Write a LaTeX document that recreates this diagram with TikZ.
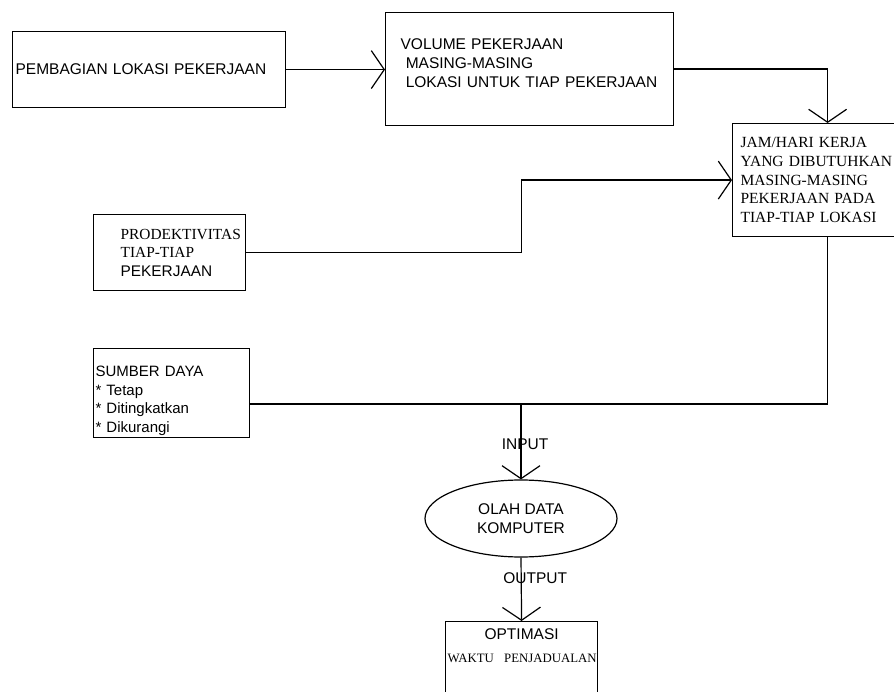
\documentclass[tikz,border=0pt]{standalone}
\usepackage{fontspec}
\setmainfont{Liberation Serif}
\setsansfont{Liberation Sans}
\usetikzlibrary{shapes.geometric, arrows.meta}

\begin{document}
\begin{tikzpicture}[
    x=1pt, y=-1pt,
    every node/.style={
        font=\sffamily\fontsize{15.5}{18.6}\selectfont
    },
    box/.style={
        draw,
        line width=1.2pt,
        anchor=north west,
        align=left,
        inner ysep=2pt
    },
    proses/.style={
        draw,
        ellipse,
        line width=1.2pt,
        align=center,
        minimum width=192pt,
        minimum height=77pt,
        inner sep=0pt
    },
    panah/.style={
        line width=1.2pt,
        -{Straight Barb[length=13pt,width=38pt]}
    },
    garis/.style={
        line width=1.2pt
    }
    ]
    \useasboundingbox (0,0) rectangle (894,692);

    % Kotak
    \node[box, minimum width=273pt, minimum height=76pt, text width=267pt, inner xsep=3pt] (pembagian) at (12,31) {PEMBAGIAN LOKASI PEKERJAAN};
    \node[box, minimum width=288pt, minimum height=113pt, text width=258pt, inner xsep=15pt] (volume) at (385,12) {VOLUME PEKERJAAN\\\ MASING-MASING\\\ LOKASI UNTUK TIAP PEKERJAAN\rule[-12pt]{0pt}{12pt}};
    \node[box, minimum width=190pt, minimum height=113pt, text width=174pt, inner xsep=8pt, font=\rmfamily\fontsize{15.5}{18.7}\selectfont] (jam) at (732,123) {JAM/HARI KERJA\\YANG DIBUTUHKAN\\MASING-MASING\\PEKERJAAN PADA\\TIAP-TIAP LOKASI};
    \node[box, minimum width=152pt, minimum height=76pt, text width=98pt, inner xsep=27pt] (prod) at (93,214) {\rmfamily\fontsize{15.4}{18.6}\selectfont PRODEKTIVITAS\\\rmfamily TIAP-TIAP\\\sffamily PEKERJAAN};
    \node[box, minimum width=156pt, minimum height=85pt, text width=152pt, inner xsep=2pt, font=\sffamily\fontsize{15}{18.5}\selectfont] (sumber) at (93,348) {\rule{0pt}{26pt}SUMBER DAYA\\{*} Tetap\\{*} Ditingkatkan\\{*} Dikurangi};
    \node[proses] (olah) at (521,518.5) {OLAH DATA\\KOMPUTER};
    \node[box, align=center, minimum width=152pt, text width=148pt, inner xsep=2pt, inner ysep=7pt, text depth=70pt] (optimasi) at (445,621) {OPTIMASI\\[4pt]\rmfamily\fontsize{12.8}{16}\selectfont\mbox{WAKTU\ \ PENJADUALAN}};

    % Penghubung
    \coordinate (simpul) at (521,404);
    \draw[panah] (pembagian.east) -- (volume.west |- pembagian.east);
    \draw[panah] (volume.east) -| (jam.north);
    \draw[panah] (prod.east) -- ++(275,0) |- (jam.west);
    \draw[garis] (sumber.east |- simpul) -| (jam.south);
    \draw[panah] (simpul) -- node[pos=0.54, xshift=4pt] {INPUT} (olah.north);
    \draw[panah] (olah.south) -- node[pos=0.33, xshift=14pt] {OUTPUT} (optimasi.north);
\end{tikzpicture}
\end{document}
